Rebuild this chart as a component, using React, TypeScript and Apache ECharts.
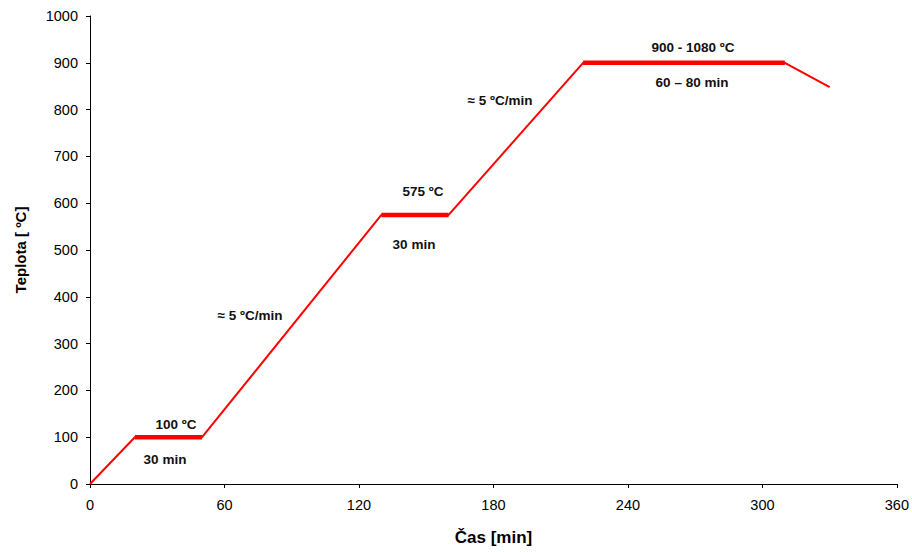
import React, { useEffect, useRef } from "react";
import * as echarts from "echarts";

const timeMin = [0, 20, 50, 130, 160, 220, 310, 330];
const tempC = [0, 100, 100, 575, 575, 900, 900, 848];
// plateau segments (thick)
const plateauTime = [20, 50, null, 130, 160, null, 220, 310];
const plateauTemp = [100, 100, null, 575, 575, null, 900, 900];
const xTicks = [0, 60, 120, 180, 240, 300, 360];
const annotations = [
  { text: "100 ºC", x: 176, y: 424 },
  { text: "30 min", x: 165, y: 459 },
  { text: "≈ 5 ºC/min", x: 250, y: 315 },
  { text: "575 ºC", x: 423, y: 191 },
  { text: "30 min", x: 414, y: 244 },
  { text: "≈ 5 ºC/min", x: 500, y: 100 },
  { text: "900 - 1080 ºC", x: 693, y: 47 },
  { text: "60 – 80 min", x: 692, y: 82 },
];

export default function App() {
  const ref = useRef<HTMLDivElement>(null);
  useEffect(() => {
    if (!ref.current) return;
    const chart = echarts.init(ref.current, null, { renderer: "svg" });
    const font = "'Liberation Sans', Arial, sans-serif";
    chart.setOption({
      animation: false,
      backgroundColor: "#fff",
      grid: { left: 90, right: 15, top: 16, bottom: 68 },
      xAxis: {
        type: "value",
        min: 0,
        max: 360,
        interval: 60,
        name: "Čas [min]",
        nameLocation: "middle",
        nameGap: 45,
        nameTextStyle: { fontFamily: font, fontWeight: "bold", fontSize: 17, color: "#000" },
        axisLine: { lineStyle: { color: "#000", width: 1 } },
        axisTick: { show: true, length: 4, inside: false, lineStyle: { color: "#000" } },
        axisLabel: {
          fontFamily: font, fontSize: 14.5, color: "#000", margin: 13,
          formatter: (v: number) => (xTicks.includes(v) ? String(v) : ""),
        },
        splitLine: { show: false },
      },
      yAxis: {
        type: "value",
        min: 0,
        max: 1000,
        interval: 100,
        name: "Teplota [ ºC]",
        nameLocation: "middle",
        nameGap: 62,
        nameRotate: 90,
        nameTextStyle: { fontFamily: font, fontWeight: "bold", fontSize: 15, color: "#000" },
        axisLine: { show: true, lineStyle: { color: "#000", width: 1 } },
        axisTick: { show: true, length: 4, lineStyle: { color: "#000" } },
        axisLabel: {
          fontFamily: font, fontSize: 14.5, color: "#000", margin: 12,
          formatter: (v: number) => String(v),
        },
        splitLine: { show: false },
      },
      series: [
        {
          type: "line",
          data: timeMin.map((t, i) => [t, tempC[i]]),
          showSymbol: false,
          lineStyle: { color: "#ff0000", width: 2 },
          z: 2,
        },
        {
          type: "line",
          data: plateauTime.map((t, i) => (t === null ? [null, null] : [t, plateauTemp[i]])),
          connectNulls: false,
          showSymbol: false,
          lineStyle: { color: "#ff0000", width: 4.5, cap: "butt" },
          z: 3,
        },
      ],
      graphic: annotations.map((a) => ({
        type: "text",
        x: a.x,
        y: a.y,
        style: {
          text: a.text,
          fontFamily: font,
          fontWeight: "bold",
          fontSize: 13.5,
          fill: "#111",
          align: "center",
          verticalAlign: "middle",
        },
      })),
    });
    return () => chart.dispose();
  }, []);
  return (
    <div
      ref={ref}
      style={{ position: "absolute", left: 0, top: 0, width: 912, height: 552 }}
    />
  );
}
